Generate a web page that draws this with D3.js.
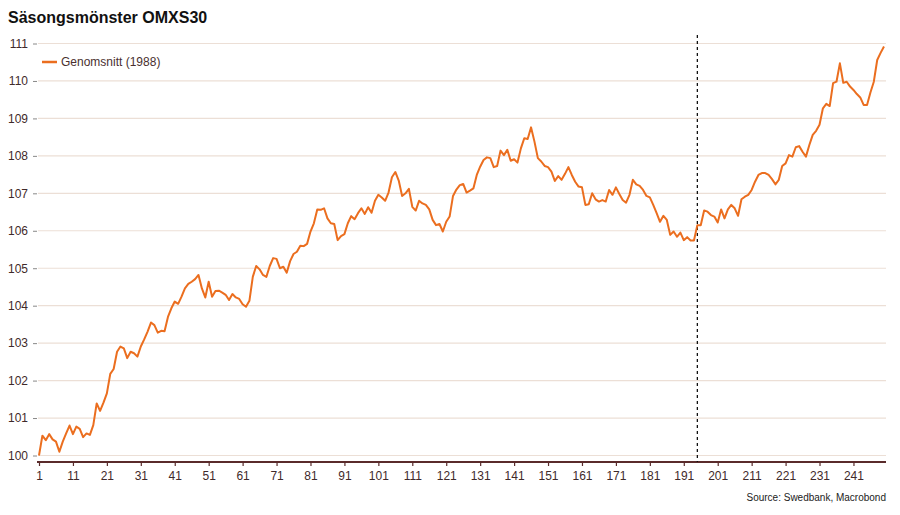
<!DOCTYPE html>
<html>
<head>
<meta charset="utf-8">
<script src="https://cdn.jsdelivr.net/npm/d3@7"></script>
<style>
  body { margin: 0; background: #fff; }
  svg { font-family: "Liberation Sans", Arial, sans-serif; }
  .y-axis text, .x-axis text { fill: #3f2a2a; font-size: 12px; }
</style>
</head>
<body>
<svg id="chart"></svg>
<script>
// Seasonal pattern, average index (day 1 = 100)
const seriesName = 'Genomsnitt (1988)';
const values = [
  100.0, 100.53, 100.41, 100.57, 100.43, 100.37, 100.1, 100.37, 100.59, 100.8,
  100.57, 100.77, 100.71, 100.49, 100.59, 100.55, 100.81, 101.39, 101.19, 101.41,
  101.66, 102.18, 102.31, 102.77, 102.91, 102.86, 102.6, 102.77, 102.73, 102.64,
  102.91, 103.1, 103.31, 103.55, 103.48, 103.28, 103.33, 103.32, 103.7, 103.93,
  104.11, 104.05, 104.24, 104.46, 104.58, 104.64, 104.71, 104.82, 104.46, 104.22,
  104.64, 104.24, 104.39, 104.4, 104.35, 104.29, 104.15, 104.31, 104.22, 104.18,
  104.04, 103.97, 104.13, 104.77, 105.06, 104.97, 104.82, 104.77, 105.06, 105.27,
  105.25, 105.0, 105.04, 104.88, 105.19, 105.38, 105.44, 105.6, 105.59, 105.65,
  105.98, 106.2, 106.57, 106.56, 106.6, 106.33, 106.2, 106.18, 105.75, 105.86,
  105.91, 106.2, 106.39, 106.31, 106.47, 106.6, 106.45, 106.63, 106.48, 106.8,
  106.96, 106.89, 106.8, 107.02, 107.43, 107.57, 107.34, 106.93, 107.0, 107.12,
  106.64, 106.54, 106.8, 106.73, 106.69, 106.57, 106.29, 106.15, 106.18, 105.98,
  106.24, 106.38, 106.93, 107.1, 107.22, 107.25, 107.02, 107.07, 107.13, 107.49,
  107.71, 107.89, 107.96, 107.94, 107.7, 107.73, 108.14, 108.02, 108.16, 107.87,
  107.91, 107.82, 108.2, 108.47, 108.45, 108.76, 108.38, 107.94, 107.85, 107.73,
  107.7, 107.58, 107.33, 107.46, 107.36, 107.52, 107.7, 107.49, 107.31, 107.18,
  107.16, 106.69, 106.71, 107.0, 106.84, 106.78, 106.82, 106.78, 107.09, 106.96,
  107.16, 106.98, 106.82, 106.75, 106.96, 107.36, 107.24, 107.2, 107.09, 106.93,
  106.89, 106.69, 106.47, 106.24, 106.4, 106.29, 105.89, 105.98, 105.84, 105.95,
  105.75, 105.83, 105.74, 105.74, 106.15, 106.15, 106.54, 106.51, 106.42, 106.38,
  106.22, 106.57, 106.33, 106.57, 106.69, 106.6, 106.4, 106.84, 106.91, 106.96,
  107.09, 107.31, 107.49, 107.54, 107.54, 107.49, 107.38, 107.24, 107.36, 107.73,
  107.8, 108.02, 107.98, 108.23, 108.26, 108.11, 107.98, 108.29, 108.56, 108.67,
  108.83, 109.27, 109.39, 109.33, 109.94, 109.98, 110.47, 109.95, 109.98, 109.85,
  109.76, 109.65, 109.56, 109.36, 109.36, 109.69, 109.98, 110.56, 110.75, 110.92
];
const days = values.map((v, i) => i + 1);
const xTicks = [1, 11, 21, 31, 41, 51, 61, 71, 81, 91, 101, 111, 121, 131, 141, 151, 161, 171, 181, 191, 201, 211, 221, 231, 241];
const yTicks = [100, 101, 102, 103, 104, 105, 106, 107, 108, 109, 110, 111];
const markerDay = 195;

const width = 900, height = 515;
const plot = {left: 39, right: 884, top: 43.5, bottom: 455.5, axisY: 462};
const lineColor = '#eb6e1f';

const svg = d3.select('#chart')
    .attr('width', width)
    .attr('height', height);

// scales
const xScale = d3.scaleLinear()
    .domain([1, days.length])
    .range([plot.left, plot.right]);
const yScale = d3.scaleLinear()
    .domain([100, 111])
    .range([plot.bottom, plot.top]);

// title
svg.append('text')
    .attr('x', 8)
    .attr('y', 23)
    .attr('font-size', 16)
    .attr('font-weight', 'bold')
    .attr('fill', '#111')
    .text('Säsongsmönster OMXS30');

// y axis with gridlines
const yAxis = d3.axisLeft(yScale)
    .tickValues(yTicks)
    .tickSize(4)
    .tickPadding(5)
    .tickFormat(d3.format('d'));

const yAxisG = svg.append('g')
    .attr('class', 'axis y-axis')
    .attr('transform', `translate(${plot.left - 2},0)`)
    .call(yAxis);
yAxisG.select('.domain').remove();
yAxisG.selectAll('.tick line').attr('stroke', '#888');

svg.append('g')
    .attr('class', 'grid')
    .selectAll('line')
    .data(yTicks)
    .join('line')
    .attr('x1', plot.left - 1)
    .attr('x2', plot.right + 2)
    .attr('y1', d => yScale(d))
    .attr('y2', d => yScale(d))
    .attr('stroke', '#ecdfd6')
    .attr('stroke-width', 1.2);

// x axis
const xAxis = d3.axisBottom(xScale)
    .tickValues(xTicks)
    .tickSize(4)
    .tickPadding(5)
    .tickFormat(d3.format('d'));

const xAxisG = svg.append('g')
    .attr('class', 'axis x-axis')
    .attr('transform', `translate(0,${plot.axisY})`)
    .call(xAxis);
xAxisG.select('.domain')
    .attr('d', `M${plot.left - 2},0H${plot.right + 2}`)
    .attr('stroke', '#5a2b2b')
    .attr('stroke-width', 2);
xAxisG.selectAll('.tick line').attr('stroke', '#5a2b2b').attr('stroke-width', 1.2);

// dashed marker line
svg.append('line')
    .attr('x1', xScale(markerDay))
    .attr('x2', xScale(markerDay))
    .attr('y1', 35)
    .attr('y2', plot.axisY)
    .attr('stroke', '#111')
    .attr('stroke-width', 1.3)
    .attr('stroke-dasharray', '3,3');

// the series
const line = d3.line()
    .x((d, i) => xScale(days[i]))
    .y(d => yScale(d));

svg.append('path')
    .datum(values)
    .attr('fill', 'none')
    .attr('stroke', lineColor)
    .attr('stroke-width', 2)
    .attr('stroke-linejoin', 'round')
    .attr('d', line);

// legend
const legend = svg.append('g').attr('transform', 'translate(42,62)');
legend.append('line')
    .attr('x1', 0).attr('x2', 15)
    .attr('stroke', lineColor)
    .attr('stroke-width', 2.5);
legend.append('text')
    .attr('x', 19)
    .attr('y', 4)
    .attr('font-size', 12)
    .attr('fill', '#4a2f2f')
    .text(seriesName);

// source
svg.append('text')
    .attr('x', 886)
    .attr('y', 501)
    .attr('text-anchor', 'end')
    .attr('font-size', 10)
    .attr('fill', '#222')
    .text('Source: Swedbank, Macrobond');
</script>
</body>
</html>
